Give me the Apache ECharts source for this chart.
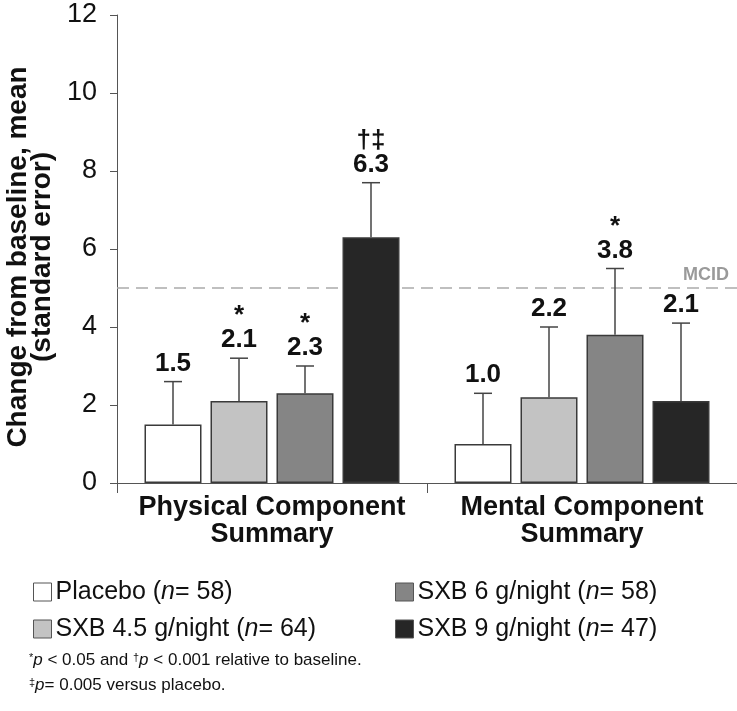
<!DOCTYPE html>
<html><head><meta charset="utf-8">
<script src="https://cdn.jsdelivr.net/npm/echarts@6/dist/echarts.min.js"></script>
<style>html,body{margin:0;padding:0;background:#fff}#c{width:737px;height:711px}</style>
</head><body><div id="c"></div>
<script>
// ---- data ----
const categories = ['Physical Component\nSummary', 'Mental Component\nSummary'];
const groups = ['Placebo', 'SXB 4.5 g/night', 'SXB 6 g/night', 'SXB 9 g/night'];
const groupN = [58, 64, 58, 47];
const placebo = [1.5, 1.0];
const sxb45 = [2.1, 2.2];
const sxb6 = [2.3, 3.8];
const sxb9 = [6.3, 2.1];
const sePlacebo = [1.1, 1.3];
const se45 = [1.1, 1.8];
const se6 = [0.7, 1.7];
const se9 = [1.4, 2.0];
const sigPlacebo = ['', ''];
const sig45 = ['*', ''];
const sig6 = ['*', '*'];
const sig9 = ['†‡', ''];
const mcid = 5;
const yMin = 0, yMax = 12, yStep = 2;

const means = [placebo, sxb45, sxb6, sxb9];
const ses = [sePlacebo, se45, se6, se9];
const sigs = [sigPlacebo, sig45, sig6, sig9];
const fills = ['#ffffff', '#c3c3c3', '#858585', '#262626'];
const FONT = '"Liberation Sans", Arial, Helvetica, sans-serif';
const BAR_W = 57, GAP = 9, STEP = BAR_W + GAP;

const chart = echarts.init(document.getElementById('c'), null, {renderer: 'canvas'});

const series = [];
groups.forEach((g, i) => {
  const s = {
    name: g, type: 'bar', data: means[i], barWidth: BAR_W, barGap: (GAP / BAR_W * 100) + '%',
    itemStyle: {color: fills[i], borderColor: '#3a3a3a', borderWidth: 1.5},
    emphasis: {disabled: true}, z: 2
  };
  if (i === 0) {
    s.markLine = {
      silent: true, symbol: 'none', z: 1,
      data: [{yAxis: mcid}],
      lineStyle: {type: [12, 7], color: '#aaaaaa', width: 1.5},
      label: {position: 'insideEndTop', formatter: 'MCID', color: '#9a9a9a', fontWeight: 'bold', fontSize: 18, fontFamily: FONT, distance: [8, 4]}
    };
  }
  series.push(s);
});
groups.forEach((g, i) => {
  series.push({
    name: 'err' + i, type: 'custom', z: 5,
    data: means[i].map((m, c) => [c, m, ses[i][c]]),
    encode: {x: 0, y: 1},
    renderItem: function (params, api) {
      const c = api.value(0), m = api.value(1), s = api.value(2);
      const p0 = api.coord([c, m]);
      const p1 = api.coord([c, m + s]);
      const x = p0[0] + (i - 1.5) * STEP;
      const children = [
        {type: 'line', shape: {x1: x, y1: p0[1], x2: x, y2: p1[1]}, style: {stroke: '#444', lineWidth: 1.5}},
        {type: 'line', shape: {x1: x - 9, y1: p1[1], x2: x + 9, y2: p1[1]}, style: {stroke: '#444', lineWidth: 1.5}},
        {type: 'text', style: {x: x, y: p1[1] - 5, text: m.toFixed(1), textAlign: 'center', textVerticalAlign: 'bottom', font: 'bold 26px ' + FONT, fill: '#111'}}
      ];
      const sg = sigs[i][params.dataIndex];
      if (sg) {
        children.push({type: 'text', style: {x: x, y: p1[1] - 29, text: sg, textAlign: 'center', textVerticalAlign: 'bottom', font: 'bold 26px ' + FONT, fill: '#111'}});
      }
      return {type: 'group', children: children};
    }
  });
});

const legendCommon = {
  orient: 'vertical', itemWidth: 18, itemHeight: 18, itemGap: 11, icon: 'rect',
  selectedMode: false,
  formatter: name => name + ' ({i|n}= ' + groupN[groups.indexOf(name)] + ')',
  textStyle: {fontSize: 25, lineHeight: 26, color: '#111', fontFamily: FONT, padding: [0, 0, 0, -1],
    rich: {i: {fontStyle: 'italic', fontSize: 25, lineHeight: 26, fontFamily: FONT, color: '#111'}}},
  itemStyle: {borderColor: '#555', borderWidth: 1}
};

chart.setOption({
  animation: false,
  backgroundColor: '#fff',
  grid: {left: 117, right: 0, top: 15, bottom: 228, containLabel: false, outerBoundsMode: 'none'},
  xAxis: {
    type: 'category', data: categories,
    axisLine: {lineStyle: {color: '#555', width: 1}},
    axisTick: {show: true, length: 10, lineStyle: {color: '#555'}},
    axisLabel: {interval: 0, hideOverlap: false, fontSize: 27, fontWeight: 'bold', color: '#111', fontFamily: FONT, lineHeight: 27, margin: 11}
  },
  yAxis: {
    type: 'value', min: yMin, max: yMax, interval: yStep,
    name: 'Change from baseline, mean\n(standard error)', nameLocation: 'middle', nameGap: 59, nameRotate: 90,
    nameTextStyle: {fontSize: 28, fontWeight: 'bold', color: '#111', fontFamily: FONT, lineHeight: 24, padding: [0, 16, 0, 0]},
    axisLine: {show: true, lineStyle: {color: '#555', width: 1}},
    axisTick: {show: true, length: 7, lineStyle: {color: '#555'}},
    axisLabel: {fontSize: 27, color: '#111', fontFamily: FONT, margin: 20},
    splitLine: {show: false}
  },
  legend: [
    Object.assign({left: 28, top: 574, data: [groups[0], groups[1]]}, legendCommon),
    Object.assign({left: 390, top: 574, data: [groups[2], groups[3]]}, legendCommon)
  ],
  graphic: [
    {type: 'text', left: 29, top: 652, style: {
      text: '{s|*}{i|p} < 0.05 and {s|†}{i|p} < 0.001 relative to baseline.',
      font: '17px ' + FONT, fill: '#111',
      rich: {s: {fontSize: 11, verticalAlign: 'top', fontFamily: FONT}, i: {fontStyle: 'italic', fontSize: 17, fontFamily: FONT}}
    }},
    {type: 'text', left: 29, top: 677, style: {
      text: '{s|‡}{i|p}= 0.005 versus placebo.',
      font: '17px ' + FONT, fill: '#111',
      rich: {s: {fontSize: 11, verticalAlign: 'top', fontFamily: FONT}, i: {fontStyle: 'italic', fontSize: 17, fontFamily: FONT}}
    }}
  ],
  series: series
});
</script>
</body></html>
